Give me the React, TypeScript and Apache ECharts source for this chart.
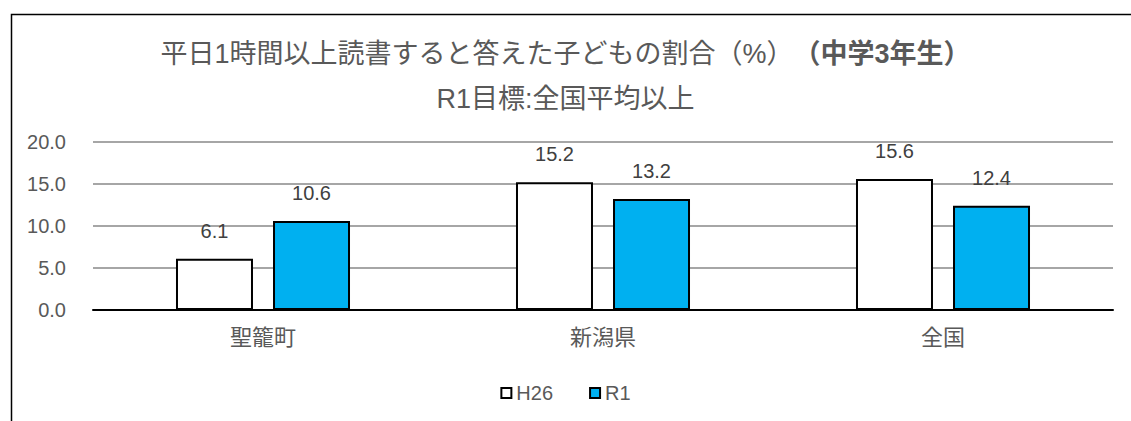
import React, { useEffect, useRef } from "react";
import * as echarts from "echarts";

const categories = ["聖籠町", "新潟県", "全国"];
const seriesNames = ["H26", "R1"];
const h26Values = [6.1, 15.2, 15.6];
const r1Values = [10.6, 13.2, 12.4];
const yTicks = { min: 0, max: 20, interval: 5 };

export default function App() {
  const ref = useRef<HTMLDivElement>(null);
  useEffect(() => {
    if (!ref.current) return;
    const chart = echarts.init(ref.current, undefined, { renderer: "svg" });
    const numFont = "'Liberation Sans', Arial, sans-serif";
    const cjkFont = "'Liberation Sans', 'Noto Sans CJK JP', sans-serif";
    const labelStyle = {
      show: true,
      position: "top" as const,
      distance: 18,
      color: "#404040",
      fontSize: 20,
      fontFamily: numFont,
      formatter: (p: any) => Number(p.value).toFixed(1),
    };
    chart.setOption({
      animation: false,
      backgroundColor: "#ffffff",
      graphic: [
        {
          type: "rect",
          left: 9,
          top: 12,
          shape: { width: 1200, height: 500 },
          style: { fill: "none", stroke: "#000000", lineWidth: 1.5 },
          silent: true,
          z: -10,
        },
      ],
      title: {
        text: "{n|平日1時間以上読書すると答えた子どもの割合（%）}{b|（中学3年生）}\n{n|R1目標:全国平均以上}",
        left: "center",
        top: 26,
        textStyle: {
          fontWeight: "normal",
          rich: {
            n: { fontSize: 27, color: "#595959", fontFamily: cjkFont, fontWeight: "normal", lineHeight: 45 },
            b: { fontSize: 27, color: "#595959", fontFamily: cjkFont, fontWeight: "bold", lineHeight: 45 },
          },
        },
      },
      legend: {
        bottom: 13,
        left: "center",
        itemWidth: 10,
        itemHeight: 10,
        itemGap: 36,
        icon: "rect",
        textStyle: { color: "#595959", fontSize: 20, fontFamily: numFont },
        data: seriesNames,
      },
      grid: { left: 93, right: 18, top: 142, bottom: 111 },
      xAxis: {
        type: "category",
        data: categories,
        axisLine: { lineStyle: { color: "#000000", width: 2 } },
        axisTick: { show: false },
        axisLabel: { color: "#595959", fontSize: 22, fontFamily: cjkFont, margin: 16 },
      },
      yAxis: {
        type: "value",
        min: yTicks.min,
        max: yTicks.max,
        interval: yTicks.interval,
        axisLine: { show: false },
        axisTick: { show: false },
        axisLabel: {
          color: "#595959",
          fontSize: 20,
          fontFamily: numFont,
          margin: 27,
          formatter: (v: number) => v.toFixed(1),
        },
        splitLine: { lineStyle: { color: "#a6a6a6", width: 2 } },
      },
      series: [
        {
          name: seriesNames[0],
          type: "bar",
          data: h26Values,
          barWidth: 77,
          barGap: "26%",
          itemStyle: { color: "#ffffff", borderColor: "#000000", borderWidth: 2 },
          label: labelStyle,
        },
        {
          name: seriesNames[1],
          type: "bar",
          data: r1Values,
          barWidth: 77,
          barGap: "26%",
          itemStyle: { color: "#00b0f0", borderColor: "#000000", borderWidth: 2 },
          label: labelStyle,
        },
      ],
    });
    return () => chart.dispose();
  }, []);
  return (
    <div
      ref={ref}
      style={{ position: "fixed", left: 0, top: 0, width: 1131, height: 421 }}
    />
  );
}
